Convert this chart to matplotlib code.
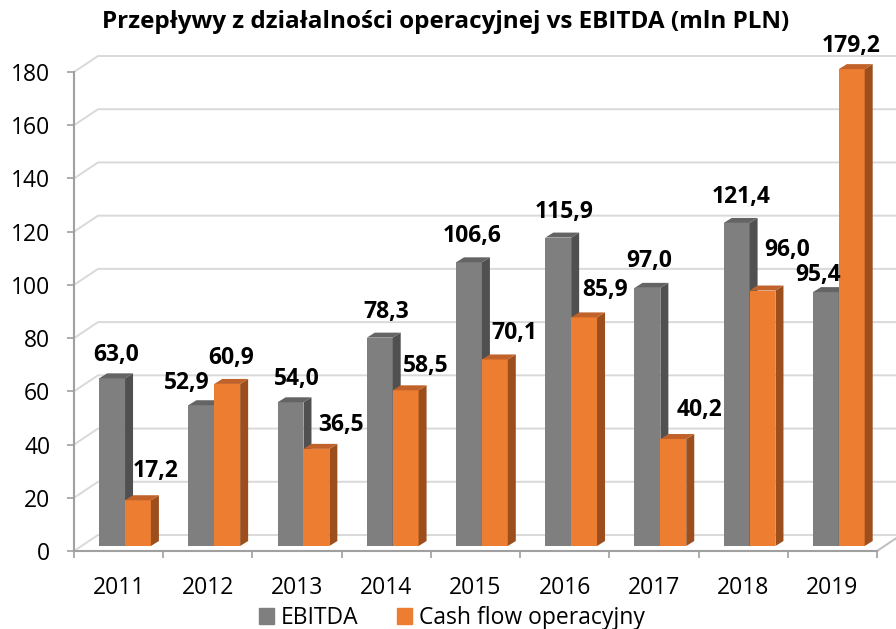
import numpy as np
import matplotlib
matplotlib.use("Agg")
import matplotlib.pyplot as plt
from matplotlib.patches import Polygon, Patch

plt.rcParams['font.family'] = ['Open Sans', 'DejaVu Sans']

years = ["2011", "2012", "2013", "2014", "2015", "2016", "2017", "2018", "2019"]
ebitda = [63.0, 52.9, 54.0, 78.3, 106.6, 115.9, 97.0, 121.4, 95.4]
cash_flow = [17.2, 60.9, 36.5, 58.5, 70.1, 85.9, 40.2, 96.0, 179.2]

title = "Przepływy z działalności operacyjnej vs EBITDA (mln PLN)"
series_names = ["EBITDA", "Cash flow operacyjny"]

# label offsets in pixels from the front-top centre of each bar
ebitda_off = [(4, 23), (-15, 22), (6, 23), (6, 26), (3, 26), (6, 26), (2, 27), (4, 26), (-8, 17)]
cash_off = [(18, 29), (4, 26), (25, 24), (20, 24), (20, 26), (21, 27), (26, 29), (25, 41), (-1, 23)]

GRAY = ("#7f7f7f", "#505050", "#646464")      # front, side, top
ORANGE = ("#ed7d31", "#9c4f1d", "#c0622a")

W, H = 896, 629
fig = plt.figure(figsize=(W / 100, H / 100), dpi=100)
# plot box in pixels: x 74..877, y 72..551
ax = fig.add_axes([74 / W, (H - 551) / H, 803 / W, 479 / H])
ax.set_xlim(-0.5, 8.5)
ax.set_ylim(0, 180)

ux = 9 / 803      # data units per pixel
uy = 180 / 479

# back wall gridlines and floor
wall_dx, wall_dy = 24 * ux, 16 * uy
x_end = -0.5 + (W - 74) * ux + 0.05
grid_c = "#d9d9d9"
for v in range(0, 181, 20):
    ax.plot([-0.5, -0.5 + wall_dx, x_end], [v, v + wall_dy, v + wall_dy],
            color=grid_c, lw=1.4, clip_on=False, zorder=1)
ax.plot([8.5, 8.5 + wall_dx], [0, wall_dy], color="#bfbfbf", lw=1.4, clip_on=False, zorder=1)

# bars
bar_w = 0.29
base = 5 * uy
dep_x, dep_y = 8 * ux, 5 * uy
x = np.arange(len(years))
gray_left = x - 0.218
orange_left = gray_left + bar_w


def draw_bar(left, value, cols, z):
    ax.bar(left, value, width=bar_w, bottom=base, align="edge",
           color=cols[0], lw=0, zorder=z, clip_on=False)
    r = left + bar_w
    top = base + value
    ax.add_patch(Polygon([(r, base), (r, top), (r + dep_x, top + dep_y), (r + dep_x, base + dep_y)],
                         closed=True, fc=cols[1], lw=0, zorder=z + 0.1, clip_on=False))
    ax.add_patch(Polygon([(left, top), (r, top), (r + dep_x, top + dep_y), (left + dep_x, top + dep_y)],
                         closed=True, fc=cols[2], lw=0, zorder=z + 0.2, clip_on=False))


for i in range(len(years)):
    draw_bar(gray_left[i], ebitda[i], GRAY, 10 + i * 2)
    draw_bar(orange_left[i], cash_flow[i], ORANGE, 11 + i * 2)

# data labels
lab_font = dict(fontsize=16.5, fontweight="bold", ha="center", va="center", color="black")
for i in range(len(years)):
    for left, vals, offs in ((gray_left, ebitda, ebitda_off), (orange_left, cash_flow, cash_off)):
        v = vals[i]
        ax.annotate(f"{v:.1f}".replace(".", ","), (left[i] + bar_w / 2, base + v),
                    xytext=offs[i], textcoords="offset pixels", zorder=50,
                    annotation_clip=False, **lab_font)

# axes styling
for s in ("top", "right"):
    ax.spines[s].set_visible(False)
for s in ("left", "bottom"):
    ax.spines[s].set_color("#a0a0a0")
    ax.spines[s].set_linewidth(1.5)

ax.set_yticks(range(0, 181, 20))
ax.tick_params(axis="y", length=5, width=1.2, color="#a0a0a0", pad=12, labelsize=16.5)
ax.set_xticks(np.arange(-0.5, 9, 1))
ax.set_xticklabels([])
ax.tick_params(axis="x", which="major", length=5, width=1.2, color="#a0a0a0")
ax.set_xticks(x, minor=True)
ax.set_xticklabels(years, minor=True)
ax.tick_params(axis="x", which="minor", length=0, pad=18, labelsize=16.5)

fig.text(446 / W, 1 - 22 / H, title, ha="center", va="center", fontsize=17.5, fontweight="bold")

handles = [Patch(color=GRAY[0]), Patch(color=ORANGE[0])]
fig.legend(handles, series_names, loc="center", bbox_to_anchor=(452 / W, (H - 618) / H),
           ncol=2, frameon=False, fontsize=16.5, handlelength=0.65, handleheight=0.65,
           handletextpad=0.3, columnspacing=1.7, borderpad=0)

fig.savefig("out.png", dpi=100)
